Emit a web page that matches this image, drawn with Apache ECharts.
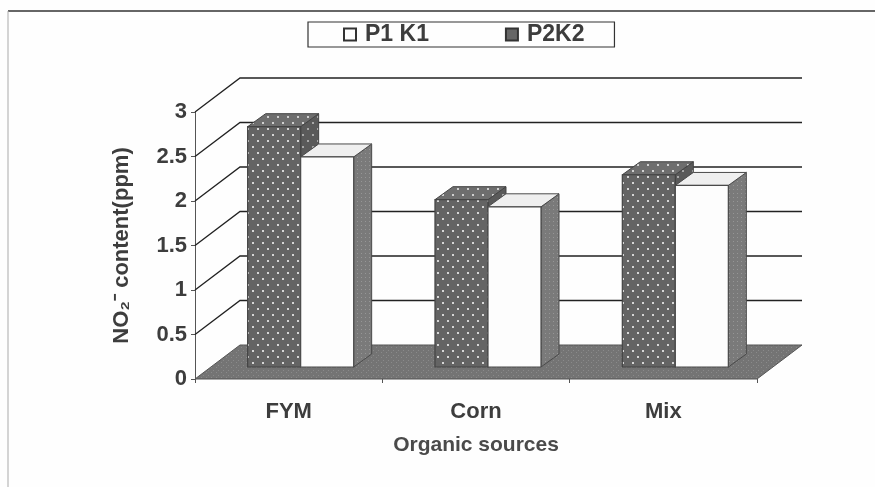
<!DOCTYPE html>
<html>
<head>
<meta charset="utf-8">
<script src="https://cdn.jsdelivr.net/npm/echarts@6/dist/echarts.min.js"></script>
<style>
html, body { margin: 0; padding: 0; background: #fefefe; }
#main { width: 875px; height: 487px; }
</style>
</head>
<body>
<div id="main"></div>
<script>
// data
var categories = ['FYM', 'Corn', 'Mix'];
var p1k1 = [2.36, 1.8, 2.04];
var p2k2 = [2.7, 1.88, 2.16];
var yTicks = [0, 0.5, 1, 1.5, 2, 2.5, 3];

var myChart = echarts.init(document.getElementById('main'));
var FONT = 'Liberation Sans, Arial, sans-serif';
var TXT = '#3d3d3d';

// small canvas tiles used as fill patterns (dots / speckle)
function tile(w, h, bg, dot, pts, size) {
  var c = document.createElement('canvas');
  c.width = w; c.height = h;
  var g = c.getContext('2d');
  g.fillStyle = bg; g.fillRect(0, 0, w, h);
  g.fillStyle = dot;
  pts.forEach(function (p) { g.fillRect(p[0], p[1], size, size); });
  return { image: c, repeat: 'repeat' };
}
var dotFace = tile(10, 12, '#646464', '#d6d6d6', [[2, 2], [7, 8]], 2);
var dotTop = tile(10, 12, '#6e6e6e', '#d0d0d0', [[2, 2], [7, 8]], 2);
var dotSide = tile(10, 12, '#5a5a5a', '#a8a8a8', [[2, 2], [7, 8]], 2);
var greySide = tile(4, 4, '#7a7a7a', '#969696', [[1, 1]], 1);
var floorFill = tile(5, 5, '#747474', '#8a8a8a', [[1, 2], [3, 0]], 1);

// depth of the floor / wall, and placement of the bar row inside it
var DEPTH = [45, -34];
var BAR_LIFT = 12;
var BAR_DEPTH = [18, -13];

function renderWall(params, api) {
  var cs = params.coordSys;
  var v = api.value(1);
  var y = api.coord([0, v])[1];
  var x = cs.x, xr = cs.x + cs.width;
  if (v === 0) {
    return {
      type: 'polygon',
      shape: { points: [[x, y], [xr, y], [xr + DEPTH[0], y + DEPTH[1]], [x + DEPTH[0], y + DEPTH[1]]] },
      style: { fill: floorFill, stroke: '#555', lineWidth: 1 }
    };
  }
  return {
    type: 'polyline',
    shape: { points: [[x, y], [x + DEPTH[0], y + DEPTH[1]], [xr + DEPTH[0], y + DEPTH[1]]] },
    style: { stroke: '#222', lineWidth: 1.3, fill: null }
  };
}

function makeBar(frac, face, top, side, edge) {
  return function (params, api) {
    var i = api.value(0), v = api.value(1);
    var bw = api.size([1, 0])[0];
    var base = api.coord([i, 0]), head = api.coord([i, v]);
    var w = 0.283 * bw;
    var xl = base[0] + frac * bw, xr = xl + w;
    var yb = base[1] - BAR_LIFT, yt = head[1] - BAR_LIFT;
    var dx = BAR_DEPTH[0], dy = BAR_DEPTH[1];
    return {
      type: 'group',
      children: [
        { type: 'polygon', shape: { points: [[xr, yt], [xr + dx, yt + dy], [xr + dx, yb + dy], [xr, yb]] },
          style: { fill: side, stroke: edge, lineWidth: 1 } },
        { type: 'polygon', shape: { points: [[xl, yt], [xr, yt], [xr + dx, yt + dy], [xl + dx, yt + dy]] },
          style: { fill: top, stroke: edge, lineWidth: 1 } },
        { type: 'rect', shape: { x: xl, y: yt, width: w, height: yb - yt },
          style: { fill: face, stroke: edge, lineWidth: 1.2 } }
      ]
    };
  };
}

var option = {
  backgroundColor: '#fefefe',
  animation: false,
  textStyle: { fontFamily: FONT },
  grid: { left: 195, right: 118, top: 112, bottom: 108 },
  legend: {
    data: ['P1 K1', 'P2K2'],
    left: 308, top: 22,
    icon: 'rect',
    itemWidth: 12, itemHeight: 12,
    itemGap: 76,
    padding: [1, 30, 1, 35],
    borderColor: '#333', borderWidth: 1.2,
    textStyle: { fontSize: 23, fontWeight: 'bold', color: TXT, fontFamily: FONT, padding: [0, 0, 0, 4] }
  },
  xAxis: {
    type: 'category',
    data: categories,
    axisLine: { show: false },
    axisTick: { show: true, length: 4, lineStyle: { color: '#555' } },
    axisLabel: { fontSize: 22, fontWeight: 'bold', color: TXT, margin: 22 },
    name: 'Organic sources',
    nameLocation: 'middle',
    nameGap: 56,
    nameTextStyle: { fontSize: 21, fontWeight: 'bold', color: '#4a4a4a' }
  },
  yAxis: {
    type: 'value',
    min: 0, max: 3, interval: 0.5,
    axisLine: { show: true, lineStyle: { color: '#555', width: 1 } },
    axisTick: { show: true, length: 4, lineStyle: { color: '#555' } },
    splitLine: { show: false },
    axisLabel: { fontSize: 22, fontWeight: 'bold', color: TXT, margin: 8 },
    name: 'NO\u2082\u207B content(ppm)',
    nameLocation: 'middle',
    nameGap: 62,
    nameTextStyle: { fontSize: 22, fontWeight: 'bold', color: TXT }
  },
  graphic: [
    { type: 'line', shape: { x1: 8, y1: 11, x2: 875, y2: 11 }, style: { stroke: '#333', lineWidth: 1.5 } },
    { type: 'line', shape: { x1: 8, y1: 11, x2: 8, y2: 487 }, style: { stroke: '#aaa', lineWidth: 1 } }
  ],
  series: [
    {
      type: 'custom',
      z: 1,
      silent: true,
      renderItem: renderWall,
      data: yTicks.map(function (v) { return [0, v]; })
    },
    {
      name: 'P2K2',
      type: 'custom',
      z: 2,
      itemStyle: { color: '#666', borderColor: '#333', borderWidth: 1 },
      renderItem: makeBar(-0.219, dotFace, dotTop, dotSide, '#444'),
      data: p2k2.map(function (v, i) { return [i, v]; })
    },
    {
      name: 'P1 K1',
      type: 'custom',
      z: 2,
      itemStyle: { color: '#fff', borderColor: '#333', borderWidth: 1 },
      renderItem: makeBar(0.064, '#fdfdfd', '#efefef', greySide, '#4a4a4a'),
      data: p1k1.map(function (v, i) { return [i, v]; })
    }
  ]
};

myChart.setOption(option);
</script>
</body>
</html>
